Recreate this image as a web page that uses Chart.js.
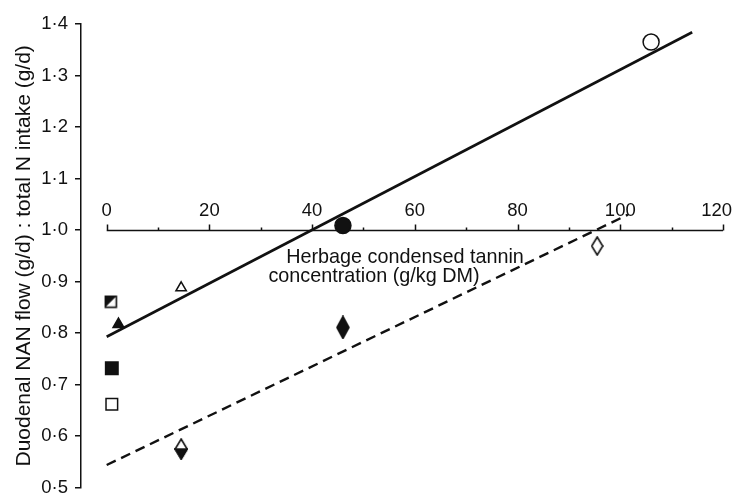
<!DOCTYPE html>
<html>
<head>
<meta charset="utf-8">
<script src="https://cdn.jsdelivr.net/npm/chart.js@4.4.1/dist/chart.umd.min.js"></script>
<style>
  html, body { margin: 0; padding: 0; background: #fff; }
  #chart { display: block; }
</style>
</head>
<body>
<canvas id="chart" width="734" height="498"></canvas>
<script>
// ---- data ----
const yTicks = [0.5, 0.6, 0.7, 0.8, 0.9, 1.0, 1.1, 1.2, 1.3, 1.4];
const yTickLabels = ['0·5', '0·6', '0·7', '0·8', '0·9', '1·0', '1·1', '1·2', '1·3', '1·4'];
const xTicks = [0, 20, 40, 60, 80, 100, 120];
const xMinorTicks = [10, 30, 50, 70, 90, 110];
const xTitleLines = ['Herbage condensed tannin', 'concentration (g/kg DM)'];
const yTitle = 'Duodenal NAN flow (g/d) : total N intake (g/d)';

// [tannin, ratio] per symbol
const openCircle = [[106, 1.365]];
const filledCircle = [[46, 1.009]];
const openDiamond = [[95.5, 0.969]];
const filledDiamond = [[46, 0.811]];
const halfDiamond = [[14.5, 0.575]];
const openTriangle = [[14.5, 0.888]];
const filledTriangle = [[2.3, 0.817]];
const halfSquare = [[0.8, 0.861]];
const filledSquare = [[1, 0.732]];
const openSquare = [[1, 0.662]];

// fitted lines (end points)
const solidLineX = [0, 114];
const solidLineY = [0.793, 1.384];
const dashedLineX = [0, 101.5];
const dashedLineY = [0.544, 1.03];

const INK = '#111';
const FONT = '"Liberation Sans", Arial, sans-serif';

function toPoints(pairs) {
  return pairs.map(p => ({ x: p[0], y: p[1] }));
}

function lineData(xs, ys) {
  return xs.map((x, i) => ({ x: x, y: ys[i] }));
}

// custom marker images (tall diamonds, half filled shapes)
function makeMarker(w, h, draw) {
  const c = document.createElement('canvas');
  c.width = w;
  c.height = h;
  const g = c.getContext('2d');
  g.strokeStyle = INK;
  g.fillStyle = INK;
  g.lineWidth = 1.6;
  draw(g, w, h);
  return c;
}

function diamondPath(g, w, h) {
  g.beginPath();
  g.moveTo(w / 2, 1);
  g.lineTo(w - 1, h / 2);
  g.lineTo(w / 2, h - 1);
  g.lineTo(1, h / 2);
  g.closePath();
}

const openDiamondImg = makeMarker(13, 20, (g, w, h) => {
  diamondPath(g, w, h);
  g.fillStyle = '#fff';
  g.fill();
  g.stroke();
});

const filledDiamondImg = makeMarker(14, 24, (g, w, h) => {
  diamondPath(g, w, h);
  g.fill();
  g.stroke();
});

const halfDiamondImg = makeMarker(14, 22, (g, w, h) => {
  diamondPath(g, w, h);
  g.fillStyle = '#fff';
  g.fill();
  g.stroke();
  g.fillStyle = INK;
  g.beginPath();
  g.moveTo(1, h / 2);
  g.lineTo(w - 1, h / 2);
  g.lineTo(w / 2, h - 1);
  g.closePath();
  g.fill();
  g.stroke();
});

const halfSquareImg = makeMarker(14, 14, (g, w, h) => {
  g.fillStyle = '#fff';
  g.fillRect(1.5, 1.5, w - 3, h - 3);
  g.fillStyle = INK;
  g.beginPath();
  g.moveTo(1.5, 1.5);
  g.lineTo(w - 1.5, 1.5);
  g.lineTo(1.5, h - 1.5);
  g.closePath();
  g.fill();
  g.strokeRect(1.5, 1.5, w - 3, h - 3);
});

function markerSet(pairs, style, radius, filled) {
  return {
    data: toPoints(pairs),
    pointStyle: style,
    pointRadius: radius,
    pointBorderColor: INK,
    pointBackgroundColor: filled ? INK : '#fff',
    pointBorderWidth: 1.5,
    showLine: false
  };
}

// x axis drawn through the middle of the plot at y = 1·0, labels above
const midAxis = {
  id: 'midAxis',
  beforeDatasetsDraw(chart) {
    const ctx = chart.ctx;
    const xs = chart.scales.x;
    const ys = chart.scales.y;
    const axisY = Math.round(ys.getPixelForValue(1.0)) + 0.5;
    ctx.save();
    ctx.strokeStyle = INK;
    ctx.lineWidth = 1.5;
    ctx.beginPath();
    ctx.moveTo(xs.getPixelForValue(xTicks[0]), axisY);
    ctx.lineTo(xs.getPixelForValue(xTicks[xTicks.length - 1]), axisY);
    xTicks.forEach(v => {
      const px = Math.round(xs.getPixelForValue(v)) + 0.5;
      ctx.moveTo(px, axisY);
      ctx.lineTo(px, axisY - 6);
    });
    xMinorTicks.forEach(v => {
      const px = Math.round(xs.getPixelForValue(v)) + 0.5;
      ctx.moveTo(px, axisY);
      ctx.lineTo(px, axisY - 3);
    });
    ctx.stroke();

    ctx.fillStyle = INK;
    ctx.font = '18.5px ' + FONT;
    ctx.textAlign = 'center';
    ctx.textBaseline = 'alphabetic';
    xTicks.forEach(v => {
      const label = String(v);
      const half = ctx.measureText(label).width / 2;
      const px = Math.min(xs.getPixelForValue(v), chart.width - half - 2);
      ctx.fillText(label, px, axisY - 15);
    });

    ctx.font = '19.8px ' + FONT;
    ctx.fillText(xTitleLines[0], 405, axisY + 32);
    ctx.fillText(xTitleLines[1], 374, axisY + 51);
    ctx.restore();
  }
};

const ctx = document.getElementById('chart').getContext('2d');

new Chart(ctx, {
  type: 'scatter',
  data: {
    datasets: [
      {
        data: lineData(solidLineX, solidLineY),
        showLine: true,
        borderColor: INK,
        borderWidth: 2.6,
        pointRadius: 0
      },
      {
        data: lineData(dashedLineX, dashedLineY),
        showLine: true,
        borderColor: INK,
        borderWidth: 2.4,
        borderDash: [10, 6],
        pointRadius: 0
      },
      markerSet(openCircle, 'circle', 8, false),
      markerSet(filledCircle, 'circle', 8, true),
      markerSet(openDiamond, openDiamondImg, 6, false),
      markerSet(filledDiamond, filledDiamondImg, 6, true),
      markerSet(halfDiamond, halfDiamondImg, 6, true),
      markerSet(openTriangle, 'triangle', 6, false),
      markerSet(filledTriangle, 'triangle', 6.3, true),
      markerSet(halfSquare, halfSquareImg, 6, true),
      markerSet(filledSquare, 'rect', 8.8, true),
      markerSet(openSquare, 'rect', 8.2, false)
    ]
  },
  options: {
    responsive: false,
    devicePixelRatio: 1,
    animation: false,
    layout: {
      padding: { left: 0, right: 11, top: 24, bottom: 8 }
    },
    plugins: {
      legend: { display: false },
      tooltip: { enabled: false }
    },
    scales: {
      x: {
        type: 'linear',
        min: -5,
        max: 120,
        display: false
      },
      y: {
        type: 'linear',
        min: 0.5,
        max: 1.4,
        afterBuildTicks: scale => {
          scale.ticks = yTicks.map(v => ({ value: v }));
        },
        afterFit: scale => {
          scale.width = 81;
          scale.paddingTop = 0;
          scale.paddingBottom = 0;
        },
        ticks: {
          color: INK,
          padding: 7,
          font: { family: FONT, size: 18.5 },
          callback: (value, index) => yTickLabels[index]
        },
        grid: {
          display: true,
          drawOnChartArea: false,
          drawTicks: true,
          tickLength: 6,
          color: INK,
          lineWidth: 1.5
        },
        border: {
          display: true,
          color: INK,
          width: 1.5
        },
        title: {
          display: true,
          text: yTitle,
          color: INK,
          font: { family: FONT, size: 21 },
          padding: { top: 12, bottom: 0 }
        }
      }
    }
  },
  plugins: [midAxis]
});
</script>
</body>
</html>
